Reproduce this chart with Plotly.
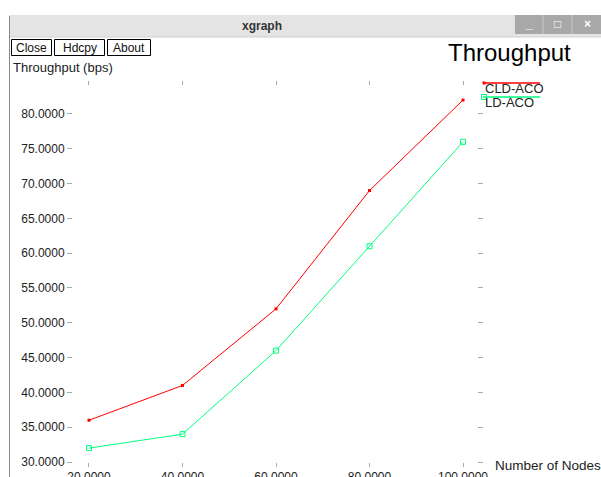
import plotly.graph_objects as go

nodes = [20, 40, 60, 80, 100]
cld_aco = [36, 41, 52, 69, 82]
ld_aco = [32, 34, 46, 61, 76]
series_names = ["CLD-ACO", "LD-ACO"]
series_colors = ["#ff0000", "#00ff7f"]
x_ticks = [20, 40, 60, 80, 100]
y_ticks = [30, 35, 40, 45, 50, 55, 60, 65, 70, 75, 80]

W, H = 601, 477
FONT = "Liberation Sans, Arial, sans-serif"

def px(xp):
    return xp / W

def py(yp):
    return 1 - yp / H

def ann(x, y, text, size, color="#222", xanchor="left"):
    return dict(x=px(x), y=py(y), xref="paper", yref="paper", text=text, showarrow=False,
                xanchor=xanchor, yanchor="middle", font=dict(family=FONT, size=size, color=color))

fig = go.Figure()
fig.add_trace(go.Scatter(x=nodes, y=cld_aco, mode="lines+markers", name=series_names[0],
                         line=dict(color=series_colors[0], width=1),
                         marker=dict(symbol="square", size=3, color=series_colors[0])))
fig.add_trace(go.Scatter(x=nodes, y=ld_aco, mode="lines+markers", name=series_names[1],
                         line=dict(color=series_colors[1], width=1),
                         marker=dict(symbol="square-open", size=5, color=series_colors[1],
                                     line=dict(width=1, color=series_colors[1]))))

shapes = []
annotations = []
# window chrome
shapes.append(dict(type="rect", xref="paper", yref="paper", x0=px(9), x1=1, y0=py(37), y1=py(15),
                   fillcolor="#e4e4e4", line=dict(width=0), layer="below"))
shapes.append(dict(type="line", xref="paper", yref="paper", x0=px(9), x1=1, y0=py(37), y1=py(37),
                   line=dict(color="#d0d0d0", width=1)))
shapes.append(dict(type="line", xref="paper", yref="paper", x0=px(9.5), x1=px(9.5), y0=0, y1=py(16),
                   line=dict(color="#8a8a8a", width=1)))
shapes.append(dict(type="rect", xref="paper", yref="paper", x0=px(515), x1=1, y0=py(34), y1=py(15),
                   fillcolor="#a8a8a8", line=dict(width=0)))
for xs in [543, 572]:
    shapes.append(dict(type="line", xref="paper", yref="paper", x0=px(xs), x1=px(xs), y0=py(34), y1=py(15),
                       line=dict(color="#c8c8c8", width=1)))
annotations.append(ann(262, 26, "<b>xgraph</b>", 12, "#333", "center"))
for xc, sym in [(529, "_"), (557, "□"), (587, "×")]:
    annotations.append(ann(xc, 24, "<b>" + sym + "</b>", 12, "white", "center"))
# buttons
for x0, x1, label in [(11, 51, "Close"), (54, 104, "Hdcpy"), (107, 150, "About")]:
    shapes.append(dict(type="rect", xref="paper", yref="paper", x0=px(x0 + 0.5), x1=px(x1 + 0.5),
                       y0=py(55.5), y1=py(39.5), fillcolor="white", line=dict(color="black", width=1)))
    annotations.append(ann((x0 + x1) / 2 + 0.5, 47.5, label, 12, "#111", "center"))
# titles
annotations.append(ann(446, 52, "Throughput", 24, "black"))
annotations.append(ann(11, 67, "Throughput (bps)", 13))
annotations.append(ann(493, 465, "Number of Nodes", 13.5))
# legend
for i, (name, col) in enumerate(zip(series_names, series_colors)):
    yl = 83 + 14 * i
    shapes.append(dict(type="line", xref="paper", yref="paper", x0=px(483), x1=px(540), y0=py(yl), y1=py(yl),
                       line=dict(color=col, width=1.5)))
    annotations.append(ann(483, yl + 5.5, name, 13))
shapes.append(dict(type="rect", xref="paper", yref="paper", x0=px(482.5), x1=px(485.5), y0=py(84.5), y1=py(81.5),
                   fillcolor=series_colors[0], line=dict(width=0)))
shapes.append(dict(type="rect", xref="paper", yref="paper", x0=px(481.5), x1=px(486.5), y0=py(99.5), y1=py(94.5),
                   fillcolor="rgba(0,0,0,0)", line=dict(color=series_colors[1], width=1)))

fig.update_layout(
    width=W, height=H, margin=dict(l=0, r=0, t=0, b=0, autoexpand=False),
    paper_bgcolor="white", plot_bgcolor="white", showlegend=False,
    shapes=shapes, annotations=annotations,
    xaxis=dict(domain=[px(73), px(477)], range=[16.58, 102.99], tickvals=x_ticks, automargin=False,
               ticktext=["%.4f" % v for v in x_ticks], showgrid=False, zeroline=False, showline=False,
               ticks="outside", ticklen=4, tickcolor="#aaa", mirror="ticks",
               tickfont=dict(family=FONT, size=12, color="#222")),
    yaxis=dict(domain=[py(462), py(86)], range=[30, 84.02], tickvals=y_ticks, automargin=False,
               ticktext=["%.4f" % v for v in y_ticks], showgrid=False, zeroline=False, showline=False,
               ticks="outside", ticklen=5, tickcolor="#aaa", mirror="ticks",
               tickfont=dict(family=FONT, size=12, color="#222")),
)
fig.write_html("out.html", config={"displayModeBar": False},
               post_script="document.body.style.margin='0';document.body.style.overflow='hidden';")
